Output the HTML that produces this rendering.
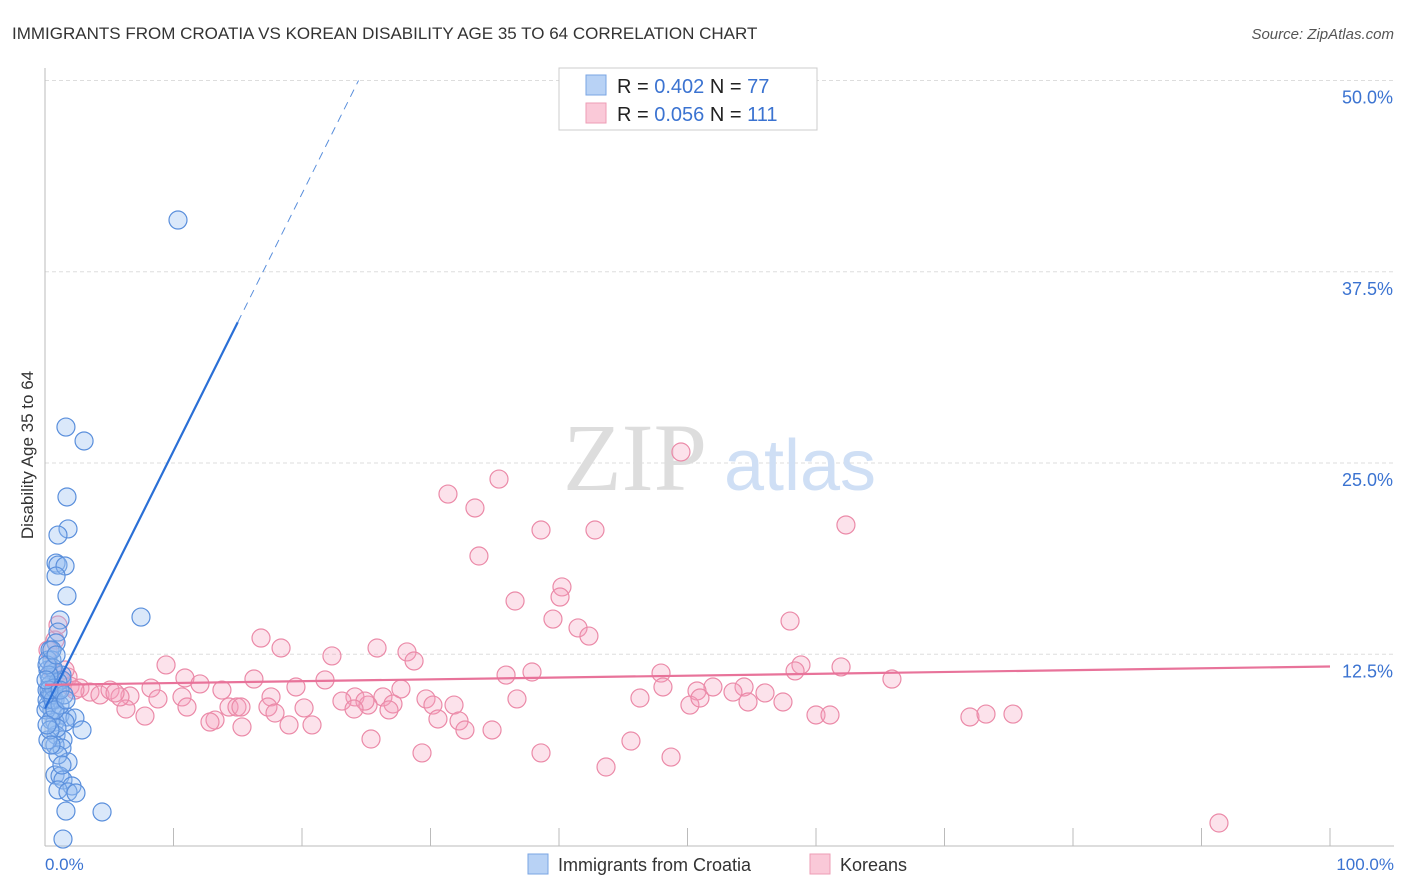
<!DOCTYPE html>
<html><head><meta charset="utf-8">
<style>
body{margin:0;background:#fff;font-family:"Liberation Sans",sans-serif;}
svg{display:block}
</style></head>
<body>
<svg id="chart" width="1406" height="892">
<text x="12" y="39" font-size="17" fill="#333">IMMIGRANTS FROM CROATIA VS KOREAN DISABILITY AGE 35 TO 64 CORRELATION CHART</text>
<text x="1394" y="39" font-size="15" fill="#555" font-style="italic" text-anchor="end">Source: ZipAtlas.com</text>
<g id="grid"></g>
<text x="635" y="490" font-size="96" fill="#ddd" font-family="Liberation Serif,serif" text-anchor="middle">ZIP</text>
<text x="800" y="490" font-size="72" fill="#cfdff5" text-anchor="middle">atlas</text>
<line x1="45" y1="68" x2="45" y2="846" stroke="#bbb"/>
<line x1="45" y1="846" x2="1394" y2="846" stroke="#bbb"/>
<g id="ticks"></g>
<text transform="translate(33,455) rotate(-90)" font-size="17" fill="#333" text-anchor="middle">Disability Age 35 to 64</text>
<g id="pts"></g>
<g id="lines"></g>
<text x="45" y="870" font-size="17" fill="#3b73d1">0.0%</text>
<text x="1394" y="870" font-size="17" fill="#3b73d1" text-anchor="end">100.0%</text>
<g>
<rect x="559" y="68" width="258" height="62" fill="#fff" stroke="#ccc"/>
<rect x="586" y="75" width="20" height="20" fill="#b8d2f5" stroke="#7aa5e3"/>
<rect x="586" y="103" width="20" height="20" fill="#fac9d8" stroke="#ee9db6"/>
<text x="617" y="93" font-size="20" fill="#222">R = <tspan fill="#3b73d1">0.402</tspan>   N = <tspan fill="#3b73d1">77</tspan></text>
<text x="617" y="121" font-size="20" fill="#222">R = <tspan fill="#3b73d1">0.056</tspan>   N = <tspan fill="#3b73d1">111</tspan></text>
</g>
<g>
<rect x="528" y="854" width="20" height="20" fill="#b8d2f5" stroke="#7aa5e3"/>
<text x="558" y="871" font-size="18" fill="#333">Immigrants from Croatia</text>
<rect x="810" y="854" width="20" height="20" fill="#fac9d8" stroke="#ee9db6"/>
<text x="840" y="871" font-size="18" fill="#333">Koreans</text>
</g>
</svg>
<script>
const yTicks=[12.5,25,37.5,50];
const yTickLabels=["12.5%","25.0%","37.5%","50.0%"];
const xTicks=[0,10,20,30,40,50,60,70,80,90,100];
const bluePx=[[178,220],[66,427],[84,441],[67,497],[68,529],[58,535],[56,563],[58,565],[65,566],[56,576],[67,596],[141,617],[60,620],[58,632],[56,643],[50,650],[52,660],[48,670],[55,672],[62,675],[50,680],[47,690],[50,695],[55,700],[48,705],[52,710],[60,715],[67,717],[75,718],[55,722],[65,722],[82,730],[56,735],[63,740],[55,745],[62,748],[68,762],[55,775],[60,776],[63,780],[72,786],[58,790],[68,792],[76,793],[66,811],[102,812],[63,839],[50,685],[47,700],[52,695],[58,690],[62,680],[48,660],[53,668],[58,682],[49,675],[54,688],[46,710],[51,720],[57,728],[48,740],[53,700],[60,705],[64,695],[47,665],[52,650],[56,655],[50,730],[58,755],[62,765],[49,690],[46,680],[55,710],[60,690],[66,700],[51,745],[47,725]];
const pinkPx=[[681,452],[448,494],[499,479],[475,508],[846,525],[541,530],[595,530],[479,556],[562,587],[560,597],[515,601],[790,621],[553,619],[578,628],[589,636],[261,638],[281,648],[377,648],[407,652],[332,656],[414,661],[166,665],[801,665],[841,667],[795,671],[661,673],[532,672],[506,675],[185,678],[254,679],[325,680],[892,679],[200,684],[663,687],[296,687],[744,687],[713,687],[151,688],[222,690],[401,689],[355,697],[383,697],[697,691],[733,692],[765,693],[640,698],[426,699],[517,699],[158,699],[182,697],[130,696],[271,697],[342,701],[368,705],[365,701],[393,704],[229,707],[237,707],[304,708],[454,705],[433,705],[690,705],[748,702],[187,707],[126,709],[268,707],[354,709],[389,710],[275,713],[783,702],[700,698],[145,716],[438,719],[241,707],[816,715],[830,715],[970,717],[986,714],[1013,714],[215,720],[210,722],[289,725],[312,725],[459,721],[465,730],[242,727],[492,730],[371,739],[631,741],[541,753],[422,753],[671,757],[606,767],[1219,823],[60,680],[68,677],[70,686],[80,688],[90,692],[100,695],[110,690],[120,697],[55,640],[58,625],[48,650],[52,670],[65,670],[75,690],[115,693]];
// convert pixel estimates to data values (percent)
const blueX=bluePx.map(p=>+((p[0]-45)/12.85).toFixed(2));
const blueY=bluePx.map(p=>+((845.5-p[1])/15.3).toFixed(2));
const pinkX=pinkPx.map(p=>+((p[0]-45)/12.85).toFixed(2));
const pinkY=pinkPx.map(p=>+((845.5-p[1])/15.3).toFixed(2));
const blueTrend=[[0,8.95],[15,34.2],[24.4,50]];
const pinkTrend=[[0,10.5],[100,11.7]];
const X=v=>45+v*12.85, Y=v=>845.5-v*15.3;
const NS="http://www.w3.org/2000/svg";
function mk(t,a,p){const e=document.createElementNS(NS,t);for(const k in a)e.setAttribute(k,a[k]);p.appendChild(e);return e;}
const grid=document.getElementById('grid');
yTicks.forEach((v,i)=>{
 const l=mk('line',{x1:45,x2:1394,y1:Y(v),y2:Y(v),stroke:'#ddd','stroke-dasharray':'4,3'},grid);
 
 
 const t=mk('text',{x:1393,y:Y(v)+23,'font-size':18,fill:'#3b73d1','text-anchor':'end'},grid);
 t.textContent=yTickLabels[i];
 
 
});
const tk=document.getElementById('ticks');
xTicks.forEach(v=>{const l=mk('line',{x1:X(v),x2:X(v),y1:828,y2:846,stroke:'#bbb'},tk);
 
 });
const pts=document.getElementById('pts');
pinkX.forEach((x,i)=>{const c=mk('circle',{cx:X(x),cy:Y(pinkY[i]),r:9,fill:'rgba(245,160,190,0.3)',stroke:'#eb8aa8','stroke-width':1.2},pts);
 
 });
blueX.forEach((x,i)=>{const c=mk('circle',{cx:X(x),cy:Y(blueY[i]),r:9,fill:'rgba(150,190,240,0.35)',stroke:'#5a8fdc','stroke-width':1.2},pts);
 
 });
const ln=document.getElementById('lines');
let a=mk('line',{x1:X(blueTrend[0][0]),y1:Y(blueTrend[0][1]),x2:X(blueTrend[1][0]),y2:Y(blueTrend[1][1]),stroke:'#2a6fd6','stroke-width':2.2},ln);


let b=mk('line',{x1:X(blueTrend[1][0]),y1:Y(blueTrend[1][1]),x2:X(blueTrend[2][0]),y2:Y(blueTrend[2][1]),stroke:'#5a8fdc','stroke-width':1,'stroke-dasharray':'8,6'},ln);


let c=mk('line',{x1:X(pinkTrend[0][0]),y1:Y(pinkTrend[0][1]),x2:X(pinkTrend[1][0]),y2:Y(pinkTrend[1][1]),stroke:'#e8739a','stroke-width':2.2},ln);


</script>
</body></html>
